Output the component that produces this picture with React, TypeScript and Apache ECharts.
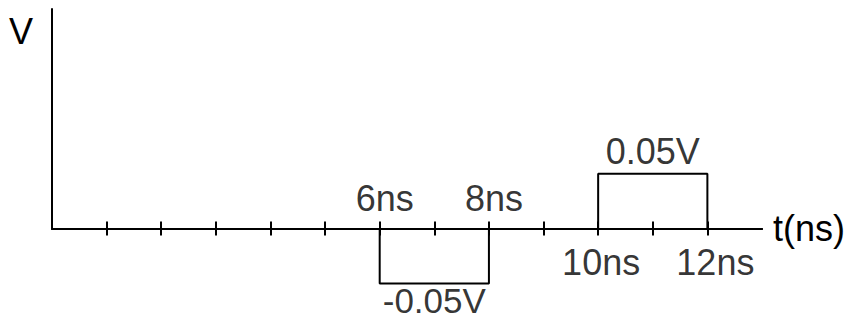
import React, { useEffect, useRef } from "react";
import * as echarts from "echarts";

// Time axis tick positions (ns)
const timeTicks = [1, 2, 3, 4, 5, 6, 7, 8, 9, 10, 11, 12];
// Pulse waveforms: [time (ns), voltage (V)]
const negativePulse: [number, number][] = [[6, 0], [6, -0.05], [8, -0.05], [8, 0]];
const positivePulse: [number, number][] = [[10, 0], [10, 0.05], [12, 0.05], [12, 0]];
// Time annotations
const upperTimeLabels: [number, string][] = [[6, "6ns"], [8, "8ns"]];
const lowerTimeLabels: [number, string][] = [[10, "10ns"], [12, "12ns"]];
// Level annotations: [center time, level, text]
const levelLabels: [number, number, string][] = [[7, -0.05, "-0.05V"], [11, 0.05, "0.05V"]];

const FONT = "'Liberation Sans', Arial, Helvetica, sans-serif";
const FS = 36;

export default function App() {
  const ref = useRef<HTMLDivElement>(null);
  useEffect(() => {
    if (!ref.current) return;
    const chart = echarts.init(ref.current, null, { renderer: "svg" });
    const axisLine = { show: true, onZero: true, lineStyle: { color: "#000", width: 2 } };
    const labelBase = { show: true, color: "#000", fontFamily: FONT, fontSize: FS };
    chart.setOption({
      animation: false,
      backgroundColor: "#fff",
      grid: { left: 52, top: 9, width: 710, height: 219.5, containLabel: false },
      xAxis: [
        {
          type: "value", min: 0, max: 13, interval: 1,
          axisLine,
          axisTick: { show: true, customValues: timeTicks, length: 7, lineStyle: { color: "#000", width: 2 } },
          axisLabel: { show: false }, splitLine: { show: false },
          name: "t(ns)", nameLocation: "end", nameGap: 11,
          nameTextStyle: { color: "#000", fontFamily: FONT, fontSize: FS, verticalAlign: "middle" },
        },
        {
          type: "value", min: 0, max: 13, interval: 1, position: "bottom",
          axisLine,
          axisTick: { show: true, inside: true, customValues: timeTicks, length: 7, lineStyle: { color: "#000", width: 2 } },
          axisLabel: { show: false }, splitLine: { show: false },
        },
      ],
      yAxis: {
        type: "value", min: 0, max: 0.2,
        axisLine: { show: true, lineStyle: { color: "#000", width: 2 } },
        axisTick: { show: false }, axisLabel: { show: false }, splitLine: { show: false },
        name: "V", nameLocation: "end", nameGap: -40,
        nameTextStyle: { color: "#000", fontFamily: FONT, fontSize: FS, align: "right", padding: [0, 19, 0, 0] },
      },
      series: [
        {
          type: "line", data: negativePulse, clip: false, symbol: "none",
          lineStyle: { color: "#000", width: 2 },
        },
        {
          type: "line", data: positivePulse, clip: false, symbol: "none",
          lineStyle: { color: "#000", width: 2 },
        },
        {
          type: "scatter", symbolSize: 0, clip: false,
          data: upperTimeLabels.map(([t, s]) => ({ value: [t, 0], name: s })),
          label: { ...labelBase, position: "top", distance: 12, offset: [5, 0], formatter: (p: any) => p.name },
        },
        {
          type: "scatter", symbolSize: 0, clip: false,
          data: lowerTimeLabels.map(([t, s], i) => ({ value: [t, 0], name: s, label: { offset: [i === 0 ? 3 : 8, 0] } })),
          label: { ...labelBase, position: "bottom", distance: 16, formatter: (p: any) => p.name },
        },
        {
          type: "scatter", symbolSize: 0, clip: false,
          data: levelLabels.map(([t, v, s]) => ({
            value: [t, v], name: s,
            label: v < 0
              ? { position: "bottom", distance: 3, lineHeight: 28, fontSize: 35 }
              : { position: "top", distance: 4 },
          })),
          label: { ...labelBase, formatter: (p: any) => p.name },
        },
      ],
    });
    return () => chart.dispose();
  }, []);
  return <div ref={ref} style={{ position: "fixed", left: 0, top: 0, width: 853, height: 321 }} />;
}
